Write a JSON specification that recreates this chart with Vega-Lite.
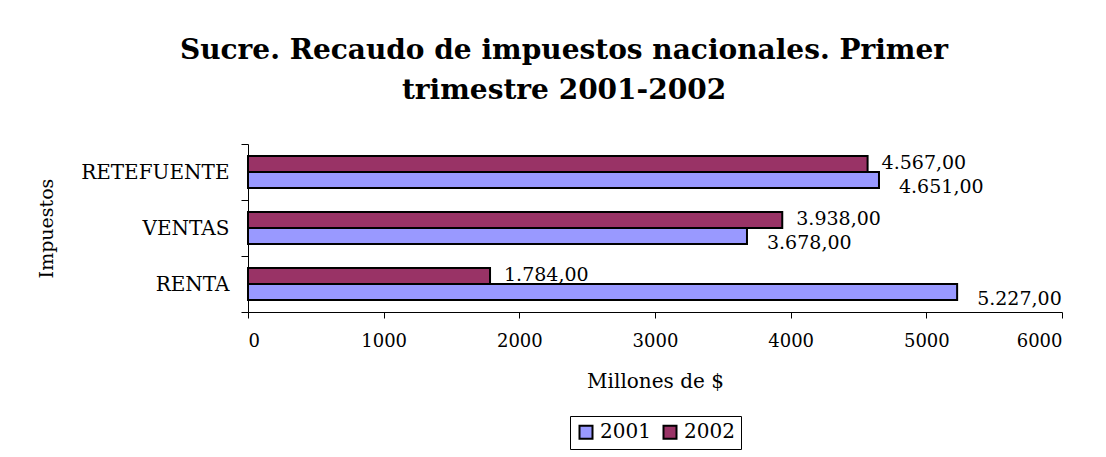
{
  "$schema": "https://vega.github.io/schema/vega-lite/v6.json",
  "width": 814,
  "height": 168,
  "autosize": {"type": "none"},
  "padding": {"left": 248, "top": 144, "right": 44, "bottom": 145},
  "background": "white",
  "config": {
    "locale": {"number": {"decimal": ",", "thousands": ".", "grouping": [3], "currency": ["$", ""]}},
    "view": {"stroke": null},
    "font": "DejaVu Serif"
  },
  "title": {
    "text": ["Sucre. Recaudo de impuestos nacionales. Primer", "trimestre 2001-2002"],
    "font": "DejaVu Serif",
    "fontSize": 28,
    "fontWeight": "bold",
    "color": "black",
    "anchor": "middle",
    "frame": "group",
    "dx": -91,
    "lineHeight": 40,
    "offset": 29
  },
  "data": {
    "values": [
      {"impuesto": "RETEFUENTE", "year": "2001", "value": 4651},
      {"impuesto": "RETEFUENTE", "year": "2002", "value": 4567},
      {"impuesto": "VENTAS", "year": "2001", "value": 3678},
      {"impuesto": "VENTAS", "year": "2002", "value": 3938},
      {"impuesto": "RENTA", "year": "2001", "value": 5227},
      {"impuesto": "RENTA", "year": "2002", "value": 1784}
    ]
  },
  "encoding": {
    "y": {
      "field": "impuesto",
      "type": "nominal",
      "sort": ["RETEFUENTE", "VENTAS", "RENTA"],
      "scale": {"paddingInner": 0, "paddingOuter": 0},
      "axis": {
        "title": "Impuestos",
        "titleFont": "DejaVu Serif",
        "titleFontSize": 19,
        "titleFontWeight": "normal",
        "titleColor": "black",
        "titlePadding": 24,
        "labelFont": "DejaVu Serif",
        "labelFontSize": 20,
        "labelColor": "black",
        "labelPadding": 12,
        "tickBand": "extent",
        "tickSize": 7,
        "tickColor": "black",
        "domainColor": "black",
        "grid": false
      }
    },
    "yOffset": {
      "field": "year",
      "type": "nominal",
      "sort": ["2002", "2001"],
      "scale": {"paddingInner": 0, "paddingOuter": 0.75}
    },
    "x": {
      "field": "value",
      "type": "quantitative",
      "scale": {"domain": [0, 6000], "nice": false},
      "axis": {
        "title": "Millones de $",
        "titleFont": "DejaVu Serif",
        "titleFontSize": 20,
        "titleFontWeight": "normal",
        "titleColor": "black",
        "titlePadding": 21,
        "labelFont": "DejaVu Serif",
        "labelFontSize": 18,
        "labelColor": "black",
        "labelPadding": 14,
        "format": "d",
        "values": [0, 1000, 2000, 3000, 4000, 5000, 6000],
        "tickSize": 6,
        "tickColor": "black",
        "domainColor": "black",
        "grid": false
      }
    }
  },
  "layer": [
    {
      "mark": {"type": "bar", "stroke": "black", "strokeWidth": 2},
      "encoding": {
        "color": {
          "field": "year",
          "type": "nominal",
          "scale": {"domain": ["2001", "2002"], "range": ["#9999FF", "#993366"]},
          "legend": {
            "title": null,
            "orient": "none",
            "legendX": 322,
            "legendY": 272,
            "direction": "horizontal",
            "strokeColor": "black",
            "fillColor": "white",
            "padding": 6,
            "symbolType": "square",
            "symbolSize": 169,
            "symbolStrokeColor": "black",
            "symbolStrokeWidth": 2,
            "symbolOpacity": 1,
            "labelFont": "DejaVu Serif",
            "labelFontSize": 20,
            "labelColor": "black",
            "labelOffset": 4,
            "columnPadding": 8
          }
        }
      }
    },
    {
      "transform": [{"filter": "datum.year == '2002'"}],
      "mark": {"type": "text", "align": "left", "baseline": "middle", "dx": 14, "dy": -1, "fontSize": 19, "font": "DejaVu Serif", "color": "black"},
      "encoding": {
        "text": {"field": "value", "type": "quantitative", "format": ",.2f"}
      }
    },
    {
      "transform": [{"filter": "datum.year == '2001'"}],
      "mark": {"type": "text", "align": "left", "baseline": "middle", "dx": 20, "dy": 7, "fontSize": 19, "font": "DejaVu Serif", "color": "black"},
      "encoding": {
        "text": {"field": "value", "type": "quantitative", "format": ",.2f"}
      }
    }
  ]
}
